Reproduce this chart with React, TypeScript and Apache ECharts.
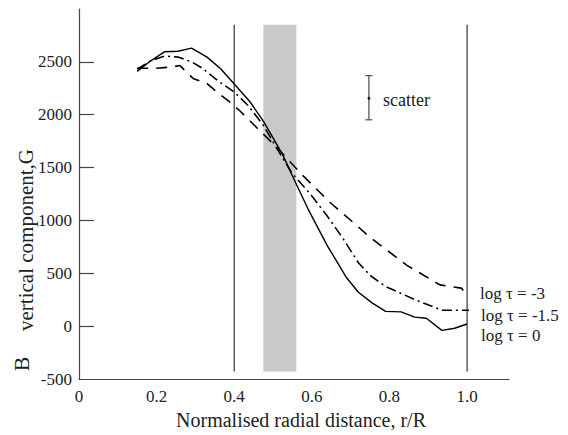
import React, { useEffect, useRef } from "react";
import * as echarts from "echarts";

// ---- data ----
const solidX = [0.15, 0.185, 0.22, 0.255, 0.29, 0.33, 0.365, 0.4, 0.44, 0.475, 0.5, 0.525, 0.55, 0.59, 0.64, 0.69, 0.72, 0.755, 0.79, 0.83, 0.865, 0.895, 0.935, 0.968, 1.0];
const solidY = [2410, 2510, 2595, 2600, 2630, 2545, 2435, 2290, 2125, 1940, 1780, 1620, 1420, 1110, 760, 455, 320, 220, 140, 135, 85, 75, -40, -20, 20];

const dashDotX = [0.15, 0.185, 0.22, 0.255, 0.29, 0.32, 0.36, 0.4, 0.435, 0.475, 0.51, 0.55, 0.595, 0.64, 0.68, 0.72, 0.75, 0.79, 0.866, 0.935, 1.005];
const dashDotY = [2430, 2510, 2555, 2545, 2500, 2435, 2315, 2215, 2090, 1900, 1680, 1440, 1255, 1040, 830, 600, 480, 375, 250, 150, 150];

const dashedX = [0.15, 0.2, 0.235, 0.26, 0.295, 0.33, 0.36, 0.385, 0.415, 0.46, 0.51, 0.575, 0.65, 0.71, 0.75, 0.845, 0.93, 0.985, 1.0];
const dashedY = [2440, 2440, 2450, 2465, 2340, 2295, 2200, 2130, 2035, 1870, 1690, 1430, 1160, 970, 840, 575, 390, 360, 290];

const seriesNames = ["log τ = -3", "log τ = -1.5", "log τ = 0"];

const xTickLabels = [0, 0.2, 0.4, 0.6, 0.8, 1.0];
const yTickLabels = [-500, 0, 500, 1000, 1500, 2000, 2500];
const yTickMarks = [0, 500, 1000, 1500, 2000, 2500];

const refLinesX = [0.4, 1.0];
const refLineYRange = [-430, 2850];
const bandX = [0.475, 0.56];

const scatterX = 0.747;
const scatterMid = 2156;
const scatterLow = 1952;
const scatterHigh = 2370;

const FONT = "Liberation Serif";

export default function App() {
  const ref = useRef<HTMLDivElement>(null);
  useEffect(() => {
    if (!ref.current) return;
    const chart = echarts.init(ref.current, undefined, { renderer: "svg" });
    const zip = (xs: number[], ys: number[]) => xs.map((x, i) => [x, ys[i]]);
    const lineCommon = {
      type: "line",
      symbol: "none",
      smooth: false,
      silent: true,
      z: 5,
    };
    const tickRich = { t: { fontFamily: FONT, fontSize: 17, color: "#222" } };
    const option: any = {
      animation: false,
      backgroundColor: "#ffffff",
      textStyle: { fontFamily: FONT },
      grid: { left: 79, top: 9, right: 59, bottom: 49, containLabel: false },
      xAxis: {
        type: "value",
        min: 0,
        max: 1.108,
        interval: 0.2,
        splitLine: { show: false },
        axisTick: { show: false },
        axisLine: { show: true, onZero: false, lineStyle: { color: "#444", width: 1.2 } },
        axisLabel: {
          customValues: xTickLabels,
          formatter: (v: number) => `{t|${v === 0 ? "0" : v.toFixed(1)}}`,
          rich: tickRich,
          fontFamily: FONT,
          fontSize: 17,
          color: "#222",
          margin: 9,
        },
        name: "Normalised radial distance, r/R",
        nameLocation: "middle",
        nameGap: 31,
        nameTextStyle: { fontFamily: FONT, fontSize: 20, color: "#222", padding: [0, 0, 0, 14] },
      },
      yAxis: {
        type: "value",
        min: -500,
        max: 3000,
        interval: 500,
        splitLine: { show: false },
        axisLine: { show: true, onZero: false, lineStyle: { color: "#444", width: 1.2 } },
        axisTick: {
          show: true,
          inside: true,
          length: 15,
          customValues: yTickMarks,
          lineStyle: { color: "#444", width: 1.2 },
        },
        axisLabel: {
          customValues: yTickLabels,
          formatter: (v: number) => `{t|${String(v)}}`,
          rich: tickRich,
          fontFamily: FONT,
          fontSize: 17,
          color: "#222",
          margin: 7,
        },
      },
      series: [
        {
          type: "line",
          data: [],
          silent: true,
          markArea: {
            silent: true,
            itemStyle: { color: "#c9c9c9" },
            data: [[{ coord: [bandX[0], refLineYRange[0]] }, { coord: [bandX[1], refLineYRange[1]] }]],
          },
          z: 1,
        },
        ...refLinesX.map((x) => ({
          ...lineCommon,
          z: 2,
          data: [[x, refLineYRange[0]], [x, refLineYRange[1]]],
          lineStyle: { color: "#444", width: 1.3 },
        })),
        {
          ...lineCommon,
          name: seriesNames[0],
          data: zip(dashedX, dashedY),
          lineStyle: { color: "#000", width: 1.6, type: [11, 8] },
        },
        {
          ...lineCommon,
          name: seriesNames[1],
          data: zip(dashDotX, dashDotY),
          lineStyle: { color: "#000", width: 1.6, type: [10, 4, 2, 4] },
        },
        {
          ...lineCommon,
          name: seriesNames[2],
          data: zip(solidX, solidY),
          lineStyle: { color: "#000", width: 1.4 },
        },
        {
          type: "custom",
          silent: true,
          z: 6,
          data: [[scatterX, scatterMid, scatterLow, scatterHigh]],
          renderItem: (params: any, api: any) => {
            const x = api.value(0);
            const mid = api.coord([x, api.value(1)]);
            const lo = api.coord([x, api.value(2)]);
            const hi = api.coord([x, api.value(3)]);
            const s = { stroke: "#555", lineWidth: 1.3 };
            return {
              type: "group",
              children: [
                { type: "line", shape: { x1: lo[0], y1: lo[1], x2: hi[0], y2: hi[1] }, style: s },
                { type: "line", shape: { x1: lo[0] - 3.5, y1: lo[1], x2: lo[0] + 3.5, y2: lo[1] }, style: s },
                { type: "line", shape: { x1: hi[0] - 3.5, y1: hi[1], x2: hi[0] + 3.5, y2: hi[1] }, style: s },
                { type: "circle", shape: { cx: mid[0], cy: mid[1], r: 1.4 }, style: { fill: "#111" } },
              ],
            };
          },
        },
      ],
      graphic: [
        {
          type: "text",
          x: 383,
          y: 100,
          style: { text: "scatter", fontFamily: FONT, fontSize: 18, fill: "#222", textVerticalAlign: "middle" },
        },
        {
          type: "text",
          x: 480,
          y: 293,
          style: { text: seriesNames[0], fontFamily: FONT, fontSize: 17, fill: "#222", textVerticalAlign: "middle" },
        },
        {
          type: "text",
          x: 481,
          y: 315,
          style: { text: seriesNames[1], fontFamily: FONT, fontSize: 17, fill: "#222", textVerticalAlign: "middle" },
        },
        {
          type: "text",
          x: 481,
          y: 335,
          style: { text: seriesNames[2], fontFamily: FONT, fontSize: 17, fill: "#222", textVerticalAlign: "middle" },
        },
        {
          type: "text",
          x: 21,
          y: 364,
          rotation: Math.PI / 2,
          style: { text: "B", fontFamily: FONT, fontSize: 22, fill: "#222", textAlign: "center", textVerticalAlign: "middle" },
        },
        {
          type: "text",
          x: 26,
          y: 240,
          rotation: Math.PI / 2,
          style: {
            text: "vertical component,G",
            fontFamily: FONT,
            fontSize: 21,
            fill: "#222",
            textAlign: "center",
            textVerticalAlign: "middle",
          },
        },
      ],
    };
    chart.setOption(option);
    return () => chart.dispose();
  }, []);
  return (
    <div
      ref={ref}
      style={{ position: "fixed", left: 0, top: 0, width: 568, height: 435 }}
    />
  );
}
